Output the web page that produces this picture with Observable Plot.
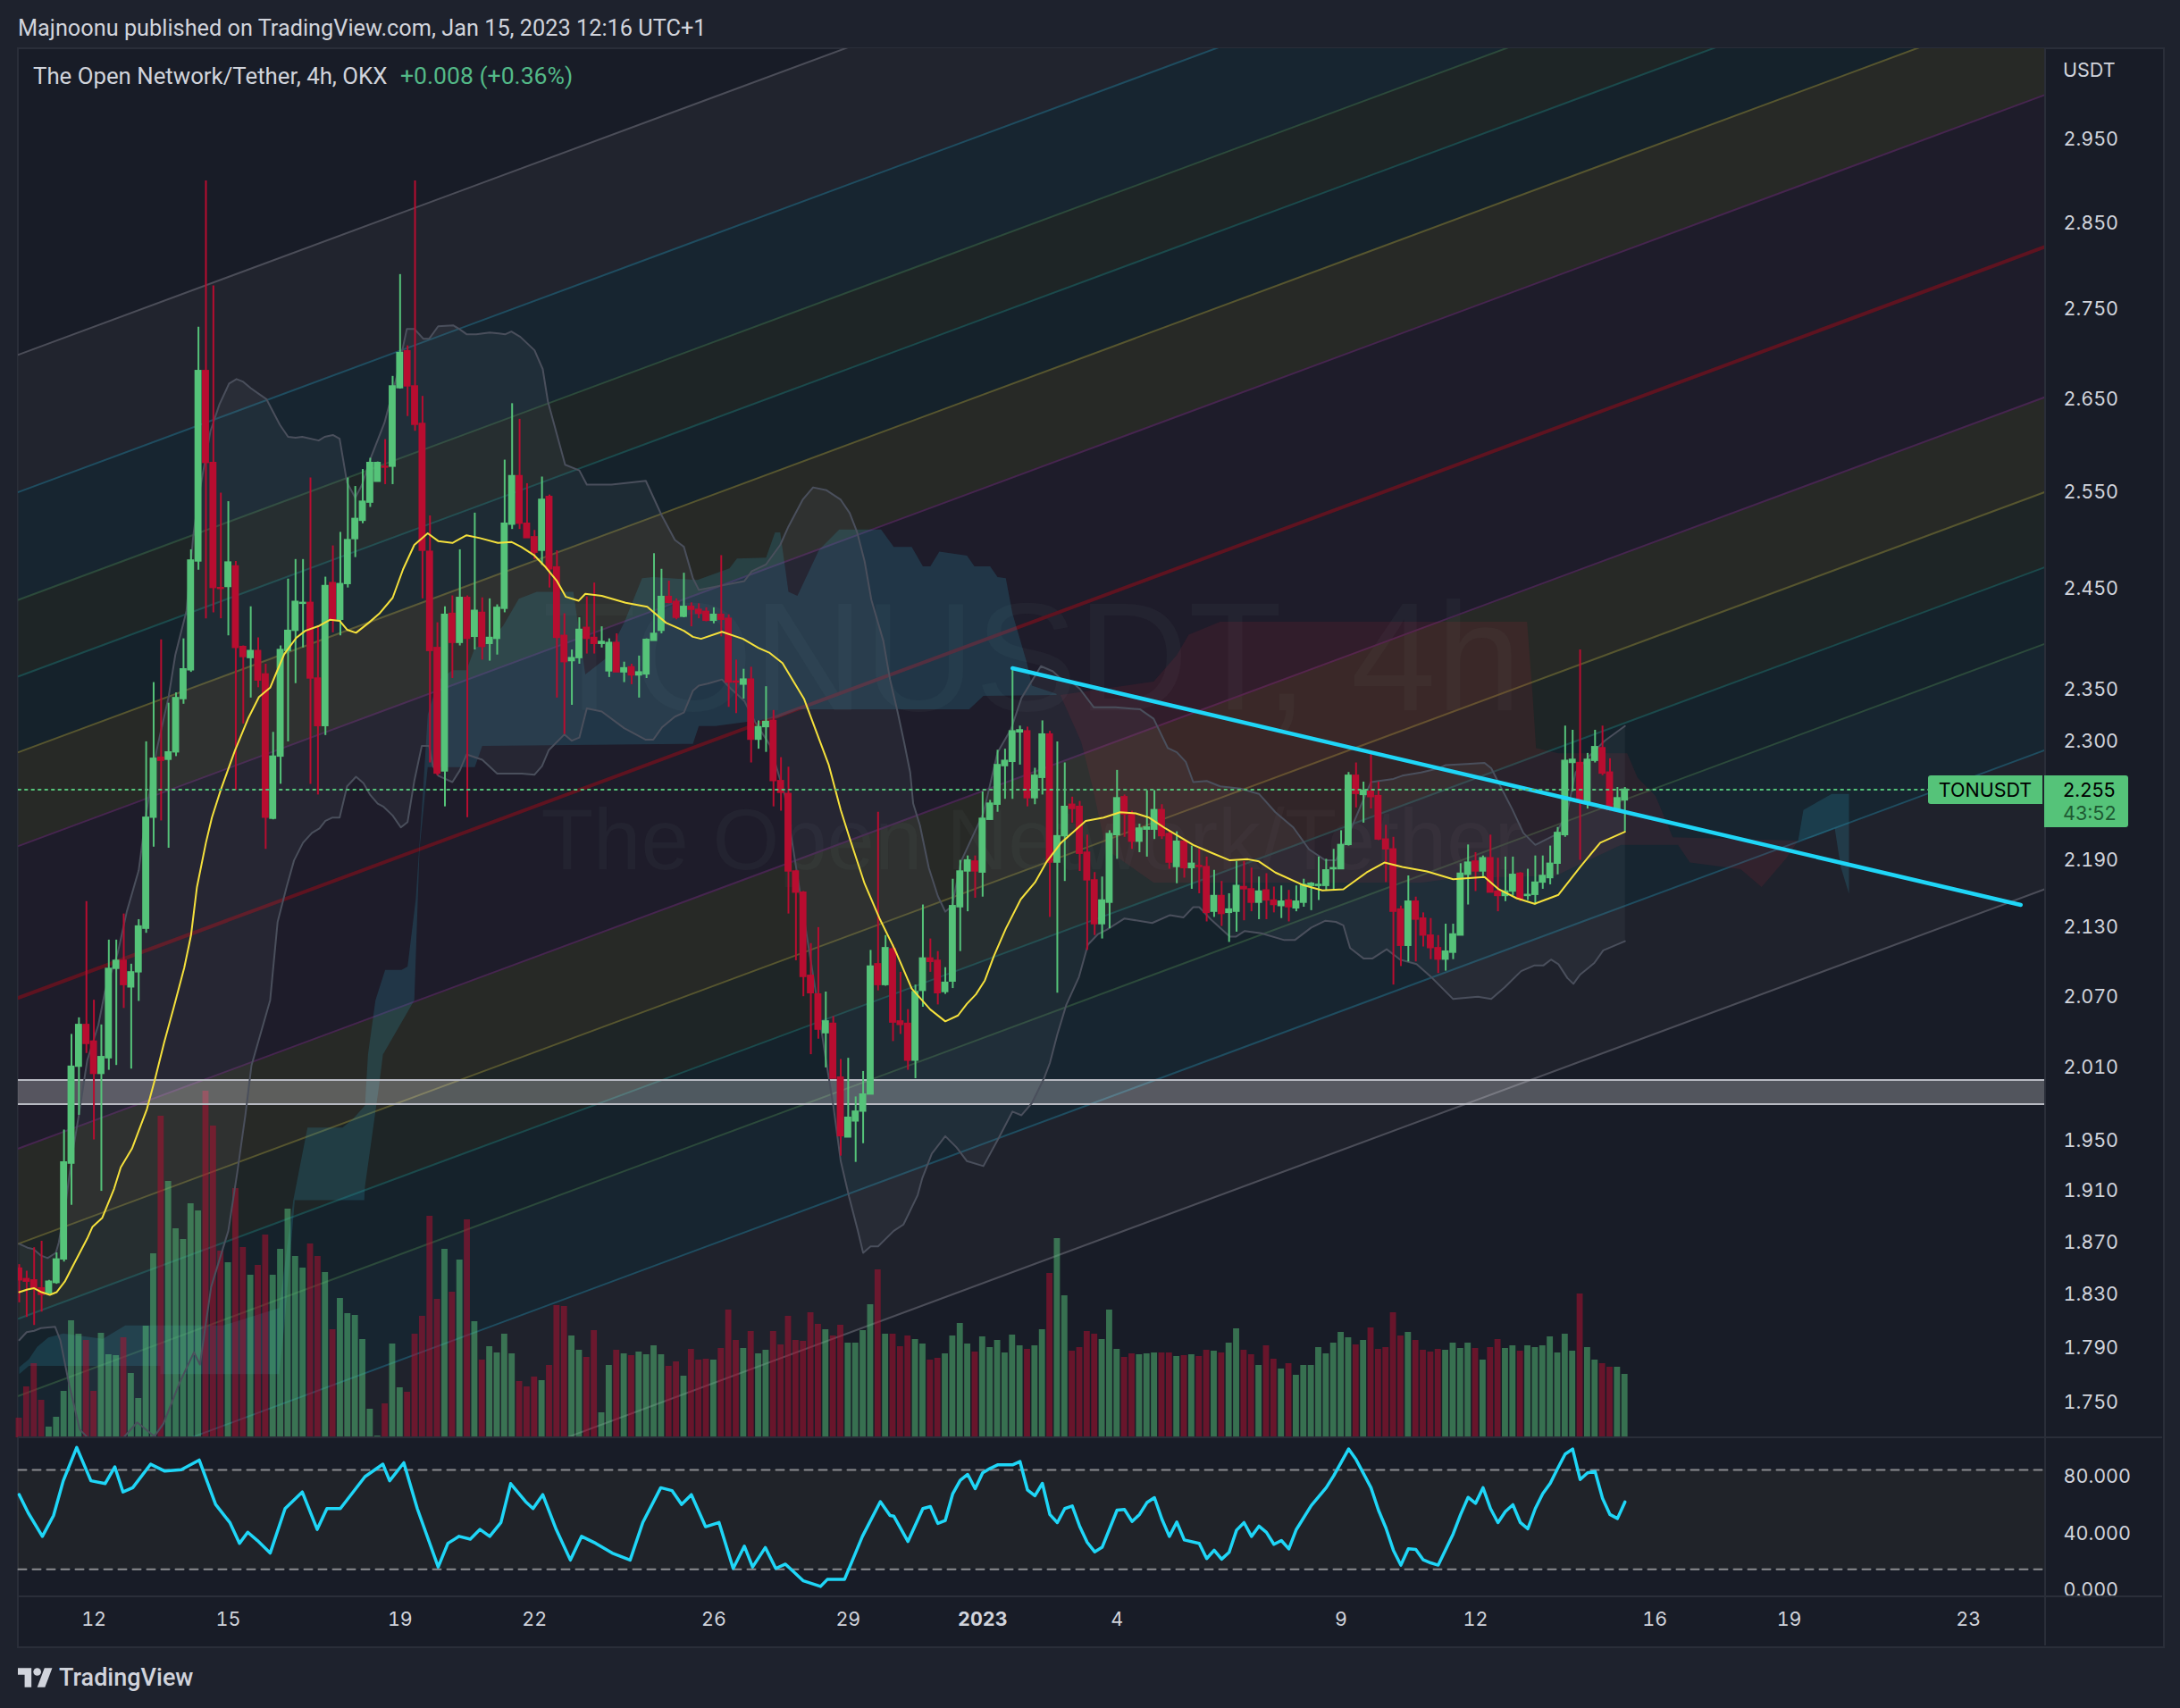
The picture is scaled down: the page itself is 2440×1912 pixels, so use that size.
<!DOCTYPE html>
<html><head><meta charset="utf-8">
<script src="https://cdn.jsdelivr.net/npm/d3@7"></script>
<script src="https://cdn.jsdelivr.net/npm/@observablehq/plot@0.6"></script>
<style>
html,body{margin:0;padding:0;background:#1e222d;}
#root{position:relative;width:2440px;height:1912px;overflow:hidden;background:#1e222d;font-family:Roboto,Inter,sans-serif;color:#d1d4dc;}
#panel{position:absolute;left:19px;top:53px;width:2400px;height:1788px;background:#181c27;border:2px solid #2a2e39;box-sizing:content-box;}
#root>svg{position:absolute;left:0;top:0;}
.abs{position:absolute;white-space:nowrap;}
.div{position:absolute;background:#2a2e39;}
</style></head><body><div id="root"><div id="panel"></div></div>
<script>
const opens=[1.850,1.842,1.841,1.835,1.831,1.839,1.857,1.932,2.011,2.046,
2.032,2.005,2.018,2.094,2.101,2.078,2.091,2.129,2.229,2.285,
2.283,2.290,2.341,2.369,2.478,2.681,2.581,2.451,2.452,2.473,
2.392,2.381,2.388,2.365,2.228,2.286,2.388,2.408,2.435,2.436,
2.361,2.315,2.456,2.419,2.455,2.501,2.520,2.539,2.561,2.577,
2.577,2.662,2.703,2.664,2.623,2.488,2.391,2.272,2.425,2.396,
2.441,2.402,2.426,2.395,2.400,2.430,2.516,2.567,2.517,2.503,
2.489,2.545,2.472,2.403,2.378,2.381,2.411,2.401,2.395,2.368,
2.396,2.367,2.372,2.364,2.365,2.398,2.408,2.442,2.437,2.422,
2.432,2.429,2.427,2.418,2.424,2.420,2.358,2.355,2.360,2.302,
2.314,2.320,2.263,2.251,2.180,2.161,2.088,2.072,2.039,2.047,
2.002,1.953,1.966,1.974,1.988,2.098,2.080,2.111,2.049,2.047,
2.016,2.075,2.103,2.101,2.074,2.083,2.148,2.180,2.189,2.179,
2.227,2.241,2.277,2.281,2.309,2.310,2.247,2.266,2.307,2.188,
2.212,2.241,2.239,2.197,2.172,2.133,2.152,2.213,2.248,2.232,
2.207,2.218,2.218,2.236,2.214,2.184,2.207,2.183,2.185,2.184,
2.144,2.158,2.143,2.144,2.166,2.164,2.152,2.163,2.154,2.149,
2.154,2.147,2.152,2.167,2.167,2.167,2.182,2.182,2.204,2.268,
2.250,2.253,2.249,2.209,2.200,2.146,2.114,2.153,2.138,2.123,
2.112,2.102,2.108,2.123,2.177,2.189,2.180,2.192,2.162,2.158,
2.162,2.178,2.158,2.159,2.170,2.174,2.187,2.213,2.280,2.280,
2.243,2.282,2.294,2.271,2.236,2.245];
const closes=[1.841,1.840,1.835,1.830,1.840,1.857,1.933,2.011,2.046,2.030,
2.005,2.019,2.094,2.101,2.080,2.091,2.131,2.229,2.284,2.282,
2.290,2.342,2.370,2.479,2.681,2.581,2.451,2.450,2.477,2.391,
2.382,2.388,2.359,2.229,2.286,2.389,2.408,2.437,2.436,2.361,
2.315,2.453,2.419,2.455,2.500,2.522,2.540,2.581,2.581,2.576,
2.664,2.701,2.664,2.622,2.489,2.388,2.270,2.424,2.396,2.441,
2.400,2.428,2.392,2.401,2.431,2.517,2.567,2.517,2.502,2.487,
2.542,2.470,2.401,2.377,2.381,2.409,2.400,2.395,2.397,2.396,
2.367,2.371,2.364,2.367,2.399,2.405,2.442,2.436,2.421,2.432,
2.429,2.425,2.418,2.424,2.419,2.357,2.357,2.360,2.302,2.314,
2.319,2.263,2.252,2.180,2.161,2.087,2.073,2.042,2.049,2.001,
1.954,1.969,1.974,1.988,2.096,2.080,2.112,2.048,2.046,2.016,
2.074,2.103,2.100,2.073,2.082,2.149,2.180,2.190,2.180,2.228,
2.242,2.278,2.282,2.310,2.311,2.247,2.268,2.307,2.188,2.212,
2.239,2.237,2.196,2.172,2.133,2.154,2.214,2.247,2.232,2.207,
2.219,2.220,2.236,2.212,2.188,2.207,2.183,2.187,2.184,2.143,
2.158,2.142,2.146,2.167,2.164,2.152,2.162,2.154,2.150,2.153,
2.148,2.153,2.168,2.169,2.168,2.181,2.183,2.204,2.268,2.251,
2.254,2.248,2.209,2.200,2.144,2.114,2.153,2.137,2.123,2.112,
2.102,2.109,2.124,2.178,2.188,2.180,2.192,2.161,2.158,2.162,
2.177,2.155,2.159,2.170,2.176,2.187,2.215,2.282,2.283,2.244,
2.283,2.295,2.270,2.236,2.247,2.255];
const highs=[1.853,1.848,1.866,1.871,1.841,1.862,1.959,2.038,2.052,2.153,
2.067,2.046,2.119,2.119,2.142,2.098,2.137,2.300,2.357,2.399,
2.337,2.347,2.400,2.490,2.730,2.900,2.777,2.549,2.540,2.478,
2.393,2.432,2.401,2.375,2.309,2.393,2.460,2.480,2.480,2.565,
2.413,2.462,2.494,2.508,2.565,2.556,2.574,2.586,2.582,2.606,
2.675,2.790,2.709,2.900,2.653,2.525,2.416,2.432,2.443,2.490,
2.443,2.528,2.441,2.440,2.434,2.584,2.645,2.628,2.559,2.510,
2.566,2.547,2.489,2.425,2.389,2.421,2.442,2.456,2.412,2.400,
2.405,2.377,2.375,2.383,2.400,2.486,2.470,2.458,2.440,2.466,
2.436,2.435,2.431,2.431,2.484,2.424,2.379,2.370,2.372,2.320,
2.353,2.330,2.285,2.276,2.181,2.162,2.116,2.130,2.074,2.053,
2.017,2.018,1.986,2.007,2.110,2.234,2.123,2.115,2.091,2.059,
2.080,2.150,2.120,2.109,2.095,2.173,2.190,2.194,2.194,2.253,
2.245,2.292,2.293,2.371,2.315,2.314,2.275,2.320,2.310,2.300,
2.280,2.248,2.244,2.213,2.179,2.175,2.217,2.273,2.250,2.235,
2.223,2.254,2.254,2.241,2.217,2.216,2.209,2.203,2.200,2.193,
2.181,2.171,2.160,2.189,2.189,2.183,2.175,2.178,2.166,2.167,
2.163,2.167,2.173,2.170,2.193,2.191,2.200,2.217,2.271,2.280,
2.262,2.290,2.262,2.222,2.211,2.149,2.176,2.157,2.143,2.138,
2.123,2.133,2.133,2.187,2.204,2.197,2.194,2.213,2.192,2.193,
2.193,2.179,2.182,2.194,2.194,2.203,2.220,2.315,2.311,2.389,
2.289,2.311,2.315,2.284,2.257,2.257];
const lows=[1.824,1.813,1.807,1.817,1.831,1.838,1.855,1.899,1.971,2.022,
1.951,1.910,2.008,2.012,2.060,2.009,2.066,2.125,2.202,2.226,
2.201,2.286,2.336,2.367,2.469,2.420,2.426,2.420,2.403,2.254,
2.317,2.342,2.352,2.200,2.227,2.260,2.300,2.356,2.391,2.260,
2.250,2.306,2.406,2.403,2.451,2.482,2.517,2.534,2.561,2.558,
2.558,2.661,2.631,2.615,2.440,2.280,2.268,2.239,2.361,2.393,
2.229,2.389,2.379,2.378,2.384,2.426,2.511,2.511,2.502,2.480,
2.474,2.451,2.342,2.307,2.335,2.375,2.385,2.385,2.391,2.362,
2.367,2.357,2.355,2.342,2.361,2.398,2.405,2.435,2.419,2.421,
2.412,2.420,2.417,2.415,2.402,2.333,2.327,2.341,2.280,2.293,
2.290,2.239,2.235,2.142,2.101,2.070,2.021,2.034,2.010,2.001,
1.938,1.953,1.933,1.948,1.988,2.075,2.079,2.032,2.038,2.008,
2.001,2.061,2.091,2.063,2.072,2.077,2.109,2.144,2.156,2.157,
2.227,2.234,2.246,2.246,2.278,2.239,2.241,2.250,2.139,2.073,
2.171,2.224,2.180,2.110,2.123,2.120,2.129,2.191,2.211,2.200,
2.197,2.193,2.209,2.209,2.182,2.169,2.174,2.164,2.160,2.135,
2.139,2.131,2.117,2.126,2.136,2.144,2.137,2.137,2.143,2.138,
2.135,2.144,2.148,2.145,2.154,2.163,2.163,2.182,2.203,2.238,
2.224,2.237,2.208,2.170,2.080,2.096,2.100,2.100,2.113,2.102,
2.090,2.092,2.102,2.123,2.150,2.162,2.174,2.161,2.144,2.153,
2.158,2.153,2.154,2.150,2.164,2.168,2.177,2.211,2.253,2.190,
2.237,2.280,2.268,2.235,2.235,2.216];
const volumes=[22,57,83,42,12,23,52,131,116,109,
52,117,93,92,112,72,44,125,206,360,
287,234,222,262,254,388,349,209,196,279,
213,182,193,227,182,211,256,203,190,217,
203,185,121,156,139,137,110,32,2,38,
105,56,51,116,136,248,155,211,163,199,
244,130,87,102,95,116,94,63,57,68,
64,81,148,147,114,98,90,120,28,81,
98,94,92,96,93,103,93,80,85,69,
99,87,88,87,100,143,109,100,119,94,
98,119,104,136,109,108,140,127,121,114,
126,106,106,120,149,188,116,116,102,114,
110,105,87,89,94,114,128,105,96,113,
101,109,95,115,103,99,103,121,184,223,
159,97,101,119,116,110,143,99,90,94,
93,94,95,95,95,91,92,93,91,98,
97,95,106,122,98,93,81,103,88,77,
83,70,81,81,101,94,106,118,112,104,
109,123,99,101,140,114,118,109,98,96,
99,98,106,100,106,100,87,101,110,100,
103,97,103,101,103,113,95,116,97,161,
101,87,83,79,79,71];
const maBar=[0,1.1,2,3,4.1,5,6.1,7.1,9.1,9.8,11.1,12.7,13.6,15.1,17.1,18.2,19.4,20.7,22.1,23,23.8,25,25.8,27,28.9,30.7,32.1,33.6,34.4,35.5,37.1,38.3,40.2,41.6,42.9,43.9,45.1,46.8,48.2,50,51.4,52.9,54.7,56.1,58,59.9,61.7,64.1,65.9,67.2,69,70.5,72,73.2,74.9,75.8,78,81.2,84.1,86.6,89,90.2,91.3,94.1,96.9,99,100.5,102.2,105.1,108.4,110,111.2,113.2,115.2,117.3,119.5,122,124,125.7,126.9,128.1,129.3,130.5,132.1,134.1,136,137.6,139.5,142.8,145.2,147.4,149.5,151.3,153.5,157.2,159.6,162.1,164.5,166,168.2,171.8,174.5,177.3,180.4,182.8,185.2,188.5,192,196.2,198.1,200.5,202.9,206.1,209,211.7,215];
const maPrice=[1.832,1.834,1.835,1.832,1.830,1.832,1.840,1.851,1.873,1.882,1.889,1.912,1.929,1.944,1.976,2.001,2.031,2.061,2.095,2.123,2.166,2.206,2.229,2.255,2.292,2.323,2.343,2.352,2.366,2.385,2.401,2.408,2.413,2.419,2.418,2.409,2.406,2.416,2.425,2.441,2.470,2.495,2.507,2.499,2.497,2.505,2.502,2.497,2.498,2.493,2.484,2.472,2.458,2.442,2.438,2.445,2.443,2.436,2.432,2.416,2.408,2.402,2.400,2.407,2.400,2.391,2.386,2.376,2.341,2.278,2.236,2.210,2.169,2.138,2.110,2.077,2.059,2.049,2.054,2.064,2.072,2.084,2.105,2.129,2.155,2.170,2.189,2.206,2.226,2.229,2.234,2.233,2.229,2.219,2.204,2.197,2.190,2.191,2.189,2.179,2.168,2.163,2.164,2.179,2.188,2.184,2.180,2.173,2.175,2.164,2.156,2.151,2.159,2.184,2.206,2.216];
const upBar=[0,1.1,1.9,2.9,3.8,4.9,5.3,6.2,7.1,7.9,9.1,10.6,11.5,13.2,14.4,16,17,18.4,20,20.9,22.4,23.3,24,25.6,26.8,28.1,29.1,30,31,32.2,33.1,34.9,36,37,37.9,40.1,40.9,42,42.9,43.9,45,45.9,47.1,48.9,50.5,51.9,52.9,54.1,54.9,56.1,58.1,58.9,59.9,61.2,63,64.2,65.1,65.9,67.1,69,70.1,70.8,73.1,75,76,79.3,83.9,86,87.8,89,90.2,91,93.7,97.1,98.1,100,101.9,103,104.9,106.3,108.1,110,111.2,112.2,113.2,114.1,115.7,116.6,117.6,118.5,119.3,119.7,120.6,121.8,123,124,124.9,126.1,129.1,131,132.8,134.2,136.8,138.4,139.6,141,142,143.9,146.8,150.1,151.9,153.8,155,156.2,157.2,159,160.8,163.5,166,168.2,170.6,172.7,174.9,176.3,177.9,179.7,181,184,185.2,187.7,190.1,191,193.8,196.2,197.1,198.7,199.9,201.4,203,205.6,207.2,208.4,210.3,212.3,215];
const upPrice=[1.869,1.866,1.865,1.860,1.858,1.862,1.870,1.900,1.939,1.968,2.016,2.046,2.075,2.108,2.144,2.181,2.233,2.292,2.343,2.384,2.428,2.504,2.544,2.615,2.644,2.667,2.672,2.669,2.662,2.655,2.650,2.622,2.609,2.608,2.609,2.605,2.609,2.611,2.607,2.560,2.544,2.558,2.587,2.624,2.673,2.728,2.728,2.717,2.717,2.731,2.732,2.728,2.722,2.722,2.724,2.723,2.722,2.725,2.719,2.704,2.683,2.647,2.579,2.573,2.558,2.558,2.562,2.526,2.500,2.493,2.461,2.449,2.453,2.458,2.468,2.475,2.495,2.514,2.542,2.555,2.552,2.542,2.528,2.508,2.478,2.439,2.398,2.360,2.329,2.299,2.271,2.242,2.222,2.183,2.158,2.144,2.149,2.189,2.233,2.290,2.312,2.342,2.373,2.368,2.360,2.357,2.351,2.333,2.333,2.331,2.322,2.294,2.290,2.281,2.262,2.263,2.258,2.256,2.251,2.234,2.220,2.200,2.190,2.190,2.212,2.241,2.262,2.265,2.268,2.271,2.275,2.278,2.279,2.280,2.275,2.253,2.237,2.215,2.204,2.213,2.232,2.271,2.287,2.301,2.315];
const loBar=[0,1,2,2.9,4.8,5.5,6.7,8.1,9,10.9,13.6,15.8,18.1,19.3,21.5,23.4,24.2,25.7,28,29.2,30.3,31.1,33.6,34.6,35.8,36.8,38,39.2,40.2,41,41.9,42.9,43.9,45.1,46.1,47,48,48.8,50,51.1,52,52.9,53.9,54.9,55.4,56.1,58,59,59.9,62,64,67.3,69,70,70.9,73,74,75,76,78,81,83.9,84.9,86.1,87.8,89,90.2,91,92.2,94.1,95.3,97.1,98.6,100.5,102.5,103.9,105.5,106.7,107.9,109,110,111.1,112.3,113,114,115,117.1,118.4,120.3,120.9,122.2,124,125.5,126.9,129.1,131.1,133,134.2,135.6,137.2,138,139,140.2,141.9,143.1,144.4,145.6,148,151.7,154.1,155.9,157.2,158,159.6,162.1,162.9,164.1,166.3,169.4,170.8,173,174.9,176.3,177.3,178.2,180,181.2,183.1,184.9,187.1,189.2,192,195.3,197.1,198.9,201.1,202.9,204.1,205.1,206.1,207.3,208.1,209,210.9,212.1,215];
const loPrice=[1.796,1.802,1.803,1.805,1.806,1.796,1.763,1.731,1.726,1.714,1.723,1.736,1.726,1.735,1.765,1.787,1.778,1.836,1.879,1.925,1.972,2.012,2.067,2.135,2.166,2.190,2.206,2.215,2.219,2.226,2.229,2.229,2.258,2.267,2.261,2.250,2.242,2.239,2.231,2.220,2.225,2.263,2.296,2.296,2.277,2.268,2.262,2.273,2.288,2.283,2.270,2.270,2.269,2.277,2.292,2.307,2.301,2.304,2.332,2.329,2.313,2.302,2.302,2.314,2.324,2.328,2.349,2.354,2.356,2.360,2.351,2.339,2.318,2.297,2.250,2.189,2.121,2.072,2.021,1.979,1.934,1.906,1.879,1.862,1.867,1.867,1.879,1.884,1.907,1.920,1.940,1.954,1.945,1.934,1.930,1.952,1.974,1.971,1.981,2.001,2.014,2.038,2.063,2.087,2.115,2.124,2.128,2.138,2.134,2.141,2.139,2.148,2.148,2.137,2.122,2.122,2.127,2.125,2.119,2.119,2.130,2.136,2.135,2.132,2.112,2.103,2.103,2.111,2.102,2.098,2.086,2.068,2.070,2.068,2.078,2.092,2.097,2.097,2.102,2.098,2.086,2.081,2.089,2.099,2.110,2.118];
const rsiBar=[0,1.2,3.1,4.6,5.9,7.7,9.6,11.5,12.8,13.9,15.2,17.6,19.5,21.7,24.1,26.3,28.2,29.5,30.6,31.9,33.6,35.6,37.9,39.9,41.2,43,46.3,48.7,49.6,51.5,53.3,56.1,57.4,58.9,60.4,61.7,63,64.5,65.8,67.8,68.8,70.1,71.9,73.8,75.3,77.2,79.4,81.8,83.5,85.9,87.4,88.7,90,91.9,93.7,95.6,97.1,98.2,99.9,101.3,102.6,105,107.3,108.2,110.5,112.9,115.3,116.6,117.1,119,121,122,123,124,125,126,127,128,129,130,131,133,134,135,136,137,138,139,140,141,142,143,144,145,147,148,149,150,151,152,153,154,155,156,158,159,160,161,162,163,164,165,166,167,168,169,170,171,173,175,176,177,178,179,181,182,183,184,185,186,187,188,189,190,192,193,194,195,196,197,198,199,200,201,202,203,204,205,206,207,208,209,210,211,212,213,214,215];
const rsiValue=[67.6,54.8,38.2,52.9,77.4,100.9,77.4,75.4,87.2,69.5,72.5,89.1,84.2,85.2,92,60.7,48,33.3,41.1,35.2,26.4,57.8,69.5,43.1,57.8,57.8,80.3,89.1,77.4,90.1,57.8,16.6,33.3,38.2,36.2,43.1,38.2,48,75.4,62.7,57.8,67.6,43.1,21.5,38.2,33.3,26.4,21.5,48,72.5,70.5,60.7,67.6,45,48,15.6,31.3,16.6,30.3,15.6,18.6,6.8,2.9,7.8,7.8,38.2,62.7,52.9,52.5,34.6,57.8,59.2,47.3,49.4,68.3,77.7,81.9,71.8,83,86.1,88.6,88.6,91,71,66.8,75.6,53.6,47.9,57.8,59.6,45.2,34,27.3,30.5,56.7,57.1,48.7,53.6,62,65.5,50.4,38.2,48.3,35.7,33.2,22.5,28.4,22.1,26.9,42.6,47.9,38.2,45.4,41,32.6,35.3,29.4,43,59.9,72.5,80.9,90.3,99.8,92.4,72.5,56.7,44.1,28.4,17.9,29.4,29,21.6,19.5,17.9,39.9,53.6,65.7,61.5,72.5,57.8,47.9,55.7,60.5,47.9,43.5,57.8,68.3,75.6,86.1,96.2,99.8,78.3,83,84,65.1,53.6,50.8,62.4];
// parallel channel lines, price at the left and at the right edge of the pane
const channelLeft=[2.699,2.550,2.439,2.363,2.290,2.203,2.069,1.944,1.869,1.812,1.755,1.680,1.586];
const channelRight=[3.681,3.478,3.327,3.223,3.124,3.005,2.822,2.652,2.550,2.472,2.395,2.292,2.164];
const channelLineColors=["#4b4d58","#1f4d60","#2c4a3b","#1b4a4c","#57562f","#46254f","#5e1320","#46254f","#57562f","#1b4a4c","#2c4a3b","#1f4d60","#4b4d58"];
const channelBandColors=["#21242e","#172530","#1e2526","#15222b","#272926","#1e1c2a","#1e1c2a","#272926","#1e2526","#15222b","#172530","#1f222c"];
const cloudABar=[0,1.3,2.4,3.9,5.9,11.2,14.2,27.3,34.8,36.7,38.6,43.3,44.7,46.3,46.7,47.7,49,51.2,52,53.1,54.1,54.7,56.1,58,59.9,61,62.9,64.8,66.9,69.3,74.2,75.8,78.6,81,83.4,84.9,90.8,95.1,96.1,100,101.2,101.9,103,104.2,107.1,109.8,115.4,117.1,119.5,121,122,123.2,126.9,127.9,130,131,132.1,133,134.9,135.6,138.9,138.9,129.1,127.2,104.4,101.5,93.2,91,90.2,62,61,54.7,53.6,52.9,48.7,48.2,46.3,46.2,36.9,35.5,34.8,18.9,18.9,1.3,0];
const cloudAPrice=[1.776,1.782,1.791,1.798,1.801,1.797,1.807,1.807,1.820,1.903,1.961,1.961,1.968,1.979,2.021,2.067,2.093,2.093,2.096,2.155,2.257,2.326,2.359,2.369,2.369,2.391,2.397,2.413,2.440,2.447,2.447,2.365,2.381,2.416,2.461,2.462,2.459,2.471,2.481,2.482,2.508,2.508,2.447,2.443,2.490,2.511,2.511,2.493,2.493,2.473,2.473,2.488,2.484,2.473,2.473,2.462,2.461,2.425,2.377,2.354,2.346,2.345,2.344,2.331,2.331,2.323,2.315,2.315,2.298,2.296,2.276,2.276,2.200,2.067,2.021,1.996,1.914,1.903,1.903,1.807,1.771,1.771,1.777,1.777,1.771];
const cloudBBar=[139.4,151.9,155,156.6,160.8,201.9,202.6,203.1,206.1,215.3,216.7,219.1,221.4,238.2,236.6,233.3,230.5,223.7,222.1,214.5,205.7,192.3,187.8,151.9,145.5,143.7,142.2,139.4];
const cloudBPrice=[2.345,2.358,2.384,2.404,2.417,2.417,2.349,2.294,2.289,2.289,2.266,2.249,2.211,2.208,2.192,2.166,2.182,2.188,2.204,2.204,2.176,2.174,2.170,2.170,2.200,2.258,2.300,2.345];
const cloudCBar=[238.2,238.9,242.7,245,245,243.9,243.1,240.1];
const cloudCPrice=[2.208,2.236,2.251,2.251,2.160,2.184,2.219,2.211];
const trendBar=[133,268];
const trendPrice=[2.371,2.150];
const zonePrices=[1.980,2.000];
const lastPrice=2.255;
const priceTicks=[2.95,2.85,2.75,2.65,2.55,2.45,2.35,2.30,2.19,2.13,2.07,2.01,1.95,1.91,1.87,1.83,1.79,1.75];
const rsiTicks=[80,40,0];
const rsiLevels=[85,15];
const timeTickBars=[10,28,51,69,93,111,129,147,177,195,219,237,261];
const timeTickLabels=["12","15","19","22","26","29","2023","4","9","12","16","19","23"];

const UP="#55c379",DOWN="#b80d30";
const XDOM=[-0.12,271.2];
const W=2440,H=1912,ML=20,MR=152;
const zip=(a,b)=>a.map((x,k)=>({x,y:b[k]}));
const bars=d3.range(opens.length);
const colorOf=i=>closes[i]>=opens[i]?UP:DOWN;
const base={width:W,height:H,marginLeft:ML,marginRight:MR,style:{background:"transparent",fontFamily:"Inter,sans-serif",fontSize:"21.5px",color:"#d1d4dc"}};
const mainLayout={...base,marginTop:54,marginBottom:303,x:{type:"linear",domain:XDOM,axis:null},y:{type:"log",domain:[1.725,3.063],axis:null}};
const poly=(xs,ys,fill,op)=>Plot.line(zip(xs,ys),{x:"x",y:"y",fill,fillOpacity:op,stroke:"none",clip:true});

const root=document.getElementById("root");
// background layer: channel bands, clouds, watermark, Bollinger fill
const bandMarks=channelBandColors.map((c,k)=>poly([XDOM[0],XDOM[1],XDOM[1],XDOM[0]],[channelLeft[k],channelRight[k],channelRight[k+1],channelLeft[k+1]],c,1));
const lineMarks=channelLeft.map((v,k)=>Plot.line(zip(XDOM,[v,channelRight[k]]),{x:"x",y:"y",stroke:channelLineColors[k],strokeWidth:k===6?4:2,clip:true}));
const bg=Plot.plot({...mainLayout,marks:[
  ...bandMarks,
  Plot.text(["TONUSDT, 4h"],{x:()=>135.6,y:()=>2.378,text:d=>d,fontSize:172,fontFamily:"Liberation Sans",fill:"#787b86",fillOpacity:0.07,textAnchor:"middle",lineAnchor:"middle"}),
  Plot.text(["The Open Network/Tether"],{x:()=>135.6,y:()=>2.207,text:d=>d,fontSize:96,fontFamily:"Liberation Sans",fill:"#787b86",fillOpacity:0.07,textAnchor:"middle",lineAnchor:"middle"}),
  ...lineMarks,
  poly(cloudABar,cloudAPrice,"#2f95b0",0.22),
  poly(cloudBBar,cloudBPrice,"#e0243c",0.10),
  poly(cloudCBar,cloudCPrice,"#2f95b0",0.22),
  poly(upBar.concat(loBar.slice().reverse()),upPrice.concat(loPrice.slice().reverse()),"#787b86",0.10)
]});
root.appendChild(bg);

// volume layer, its own hidden scale
const vol=Plot.plot({...base,marginTop:1159,marginBottom:303,x:{type:"linear",domain:XDOM,axis:null},y:{domain:[0,450],axis:null},marks:[
  Plot.rect(bars,{x1:i=>i-0.41,x2:i=>i+0.41,y1:()=>0,y2:i=>volumes[i],fill:colorOf,fillOpacity:0.5})
]});
root.appendChild(vol);

// foreground layer: zone, Bollinger lines, MA, candles, trend line, price axis
const fg=Plot.plot({...mainLayout,marks:[
  Plot.rect([0],{x1:()=>XDOM[0],x2:()=>XDOM[1],y1:()=>zonePrices[0],y2:()=>zonePrices[1],fill:"#ffffff",fillOpacity:0.25,clip:true}),
  ...zonePrices.map(p=>Plot.line(zip(XDOM,[p,p]),{x:"x",y:"y",stroke:"#b8bac2",strokeWidth:2,clip:true})),
  Plot.line(zip(upBar,upPrice),{x:"x",y:"y",stroke:"#4a4f5c",strokeWidth:2,clip:true}),
  Plot.line(zip(loBar,loPrice),{x:"x",y:"y",stroke:"#4a4f5c",strokeWidth:2,clip:true}),
  Plot.ruleX(bars,{x:i=>i,y1:i=>lows[i],y2:i=>highs[i],stroke:colorOf,strokeWidth:2,clip:true}),
  Plot.rect(bars,{x1:i=>i-0.47,x2:i=>i+0.47,y1:i=>Math.min(opens[i],closes[i]),y2:i=>Math.max(opens[i],closes[i]),fill:colorOf,insetTop:-0.7,insetBottom:-0.7,clip:true}),
  Plot.line(zip(maBar,maPrice),{x:"x",y:"y",stroke:"#f5e13c",strokeWidth:2,clip:true}),
  Plot.line(zip(trendBar,trendPrice),{x:"x",y:"y",stroke:"#1fd6f7",strokeWidth:4.5,clip:true}),
  Plot.line(zip([XDOM[0],256],[lastPrice,lastPrice]),{x:"x",y:"y",stroke:UP,strokeWidth:2,strokeDasharray:"2.5 5",clip:true}),
  Plot.axisY(priceTicks,{anchor:"right",tickSize:0,tickPadding:21,tickFormat:d=>d.toFixed(3),label:null})
]});
root.appendChild(fg);

// RSI pane + time axis
const rsi=Plot.plot({...base,marginTop:1610,marginBottom:125,x:{type:"linear",domain:XDOM},y:{domain:[-4.41,107.09]},marks:[
  Plot.rect([0],{x1:()=>XDOM[0],x2:()=>XDOM[1],y1:()=>rsiLevels[1],y2:()=>rsiLevels[0],fill:"#e0d060",fillOpacity:0.045}),
  ...rsiLevels.map(v=>Plot.line(zip(XDOM,[v,v]),{x:"x",y:"y",stroke:"#8b8c90",strokeWidth:2,strokeDasharray:"9 7"})),
  Plot.line(zip(rsiBar,rsiValue),{x:"x",y:"y",stroke:"#1fd6f7",strokeWidth:3.5}),
  Plot.axisY(rsiTicks,{anchor:"right",tickSize:0,tickPadding:21,tickFormat:d=>d.toFixed(3),label:null}),
  Plot.axisX(timeTickBars,{anchor:"bottom",tickSize:0,tickPadding:17,tickFormat:(d,k)=>timeTickLabels[timeTickBars.indexOf(d)],label:null})
]});
root.appendChild(rsi);
rsi.querySelectorAll("text").forEach(t=>{if(t.textContent==="2023"){t.style.fontWeight="700";}});

// chrome
function add(cls,css,html){const e=document.createElement("div");e.className=cls;e.style.cssText=css;if(html!=null)e.innerHTML=html;root.appendChild(e);return e;}
add("div","left:2288px;top:54px;width:2px;height:1788px");
add("div","left:20px;top:1608px;width:2400px;height:2px");
add("div","left:20px;top:1786px;width:2400px;height:2px");
add("abs","left:20px;top:17px;font:25.3px/30px Roboto,sans-serif;color:#d1d4dc","Majnoonu published on TradingView.com, Jan 15, 2023 12:16 UTC+1");
add("abs","left:37px;top:70px;font:25.8px/30px Roboto,sans-serif;color:#d1d4dc","The Open Network/Tether, 4h, OKX");
add("abs","left:448px;top:70px;font:26.6px/30px Roboto,sans-serif;color:#53b987","+0.008 (+0.36%)");
add("abs","left:2309px;top:64px;font:21.5px/28px Inter,sans-serif;color:#d1d4dc","USDT");
add("abs","left:2158px;top:868px;width:128px;height:32px;background:#55c379;border-radius:3px 0 0 3px;color:#000;font:21.5px/32px Inter,sans-serif;text-align:center","TONUSDT");
add("abs","left:2288px;top:868px;width:94px;height:58px;background:#55c379;border-radius:0 3px 3px 0");
add("abs","left:2309px;top:868px;color:#000;font:21.5px/32px Inter,sans-serif","2.255");
add("abs","left:2309px;top:894px;color:#1e5a33;font:21.5px/32px Inter,sans-serif","43:52");
add("abs","left:20px;top:1867px;width:39px;height:22px",'<svg viewBox="0 0 36 20" width="39" height="22" style="position:static"><path fill="#d1d4dc" d="M14 20H7V7H0V0h14v20zM28 20h-8L27.500 0h8L28 20z"/><circle cx="20" cy="4" r="4" fill="#d1d4dc"/></svg>');
add("abs","left:66px;top:1862px;font:500 27px/32px Roboto,sans-serif;color:#d1d4dc","TradingView");
</script></body></html>
